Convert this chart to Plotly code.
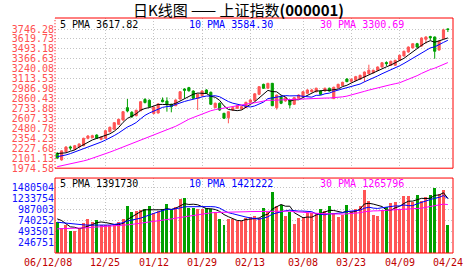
import plotly.graph_objects as go

# ---------------- data ----------------
dates = [
    "2006-12-08", "2006-12-11", "2006-12-12", "2006-12-13", "2006-12-14", "2006-12-15",
    "2006-12-18", "2006-12-19", "2006-12-20", "2006-12-21", "2006-12-22", "2006-12-25",
    "2006-12-26", "2006-12-27", "2006-12-28", "2006-12-29",
    "2007-01-04", "2007-01-05", "2007-01-08", "2007-01-09", "2007-01-10", "2007-01-11",
    "2007-01-12", "2007-01-15", "2007-01-16", "2007-01-17", "2007-01-18", "2007-01-19",
    "2007-01-22", "2007-01-23", "2007-01-24", "2007-01-25", "2007-01-26", "2007-01-29",
    "2007-01-30", "2007-01-31",
    "2007-02-01", "2007-02-02", "2007-02-05", "2007-02-06", "2007-02-07", "2007-02-08",
    "2007-02-09", "2007-02-12", "2007-02-13", "2007-02-14", "2007-02-15", "2007-02-16",
    "2007-02-26", "2007-02-27", "2007-02-28",
    "2007-03-01", "2007-03-02", "2007-03-05", "2007-03-06", "2007-03-07", "2007-03-08",
    "2007-03-09", "2007-03-12", "2007-03-13", "2007-03-14", "2007-03-15", "2007-03-16",
    "2007-03-19", "2007-03-20", "2007-03-21", "2007-03-22", "2007-03-23", "2007-03-26",
    "2007-03-27", "2007-03-28", "2007-03-29", "2007-03-30",
    "2007-04-02", "2007-04-03", "2007-04-04", "2007-04-05", "2007-04-06", "2007-04-09",
    "2007-04-10", "2007-04-11", "2007-04-12", "2007-04-13", "2007-04-16", "2007-04-17",
    "2007-04-18", "2007-04-19", "2007-04-20", "2007-04-23", "2007-04-24",
]

open_ = [2160, 2080, 2185, 2245, 2215, 2244, 2261, 2355, 2363, 2397,
         2342, 2355, 2439, 2470, 2533, 2588, 2745, 2686, 2643, 2706,
         2850, 2839, 2672, 2677, 2843, 2830, 2788, 2770, 2855, 2983,
         3000, 2957, 2864, 2897, 2970, 2941, 2745, 2801, 2673, 2617,
         2715, 2737, 2728, 2745, 2813, 2836, 2915, 3042, 2992, 3055,
         2745, 2885, 2830, 2843, 2788, 2864, 2885, 2928, 2948, 2948,
         2957, 2957, 2992, 2860, 3000, 3025, 3110, 3080, 3093, 3106,
         3136, 3177, 3190, 3221, 3263, 3320, 3285, 3285, 3348, 3403,
         3454, 3505, 3559, 3530, 3615, 3650, 3645, 3480, 3623, 3748]

high = [2180, 2200, 2255, 2261, 2270, 2290, 2362, 2397, 2400, 2405,
        2380, 2460, 2505, 2560, 2605, 2700, 2855, 2700, 2720, 2830,
        2865, 2850, 2760, 2800, 2875, 2877, 2795, 2850, 2955, 2992,
        3010, 2965, 2925, 2965, 2980, 2950, 2810, 2810, 2680, 2700,
        2755, 2780, 2765, 2820, 2850, 2930, 3020, 3050, 3060, 3060,
        2910, 2900, 2880, 2855, 2880, 2915, 2955, 2980, 2985, 3000,
        2965, 3000, 3000, 3012, 3050, 3075, 3120, 3120, 3150, 3165,
        3205, 3292, 3230, 3270, 3325, 3335, 3345, 3355, 3420, 3470,
        3525, 3565, 3570, 3640, 3655, 3660, 3650, 3600, 3750, 3752]

low = [2090, 2070, 2178, 2202, 2208, 2238, 2255, 2342, 2355, 2348,
       2330, 2350, 2430, 2465, 2528, 2580, 2686, 2615, 2635, 2700,
       2800, 2745, 2660, 2670, 2813, 2694, 2686, 2765, 2850, 2864,
       2950, 2855, 2715, 2890, 2920, 2780, 2740, 2705, 2600, 2546,
       2705, 2730, 2720, 2740, 2805, 2830, 2905, 2985, 2985, 2765,
       2720, 2790, 2820, 2737, 2780, 2855, 2880, 2920, 2940, 2940,
       2905, 2950, 2950, 2855, 2995, 3020, 3070, 3060, 3085, 3100,
       3072, 3170, 3180, 3215, 3255, 3275, 3280, 3280, 3340, 3395,
       3445, 3500, 3505, 3520, 3560, 3605, 3368, 3470, 3615, 3708]

close = [2105, 2195, 2244, 2232, 2261, 2283, 2355, 2384, 2388, 2355,
         2368, 2452, 2495, 2554, 2597, 2694, 2703, 2630, 2712, 2821,
         2810, 2757, 2750, 2792, 2821, 2789, 2757, 2843, 2948, 2966,
         2960, 2864, 2915, 2957, 2928, 2788, 2801, 2715, 2610, 2694,
         2745, 2770, 2757, 2813, 2843, 2921, 3012, 2992, 3055, 2770,
         2906, 2801, 2872, 2779, 2872, 2906, 2948, 2970, 2970, 2992,
         2915, 2992, 2957, 3005, 3042, 3068, 3076, 3105, 3140, 3157,
         3199, 3221, 3221, 3263, 3317, 3305, 3335, 3348, 3412, 3463,
         3517, 3559, 3517, 3632, 3645, 3635, 3463, 3590, 3735, 3740]

ma5 = [2162, 2165, 2170, 2190, 2207, 2243, 2275, 2303, 2334, 2353,
       2370, 2389, 2412, 2445, 2493, 2558, 2609, 2636, 2667, 2712,
       2735, 2746, 2770, 2786, 2786, 2782, 2782, 2801, 2832, 2861,
       2895, 2916, 2931, 2932, 2925, 2890, 2878, 2838, 2768, 2722,
       2713, 2707, 2715, 2756, 2786, 2821, 2869, 2916, 2965, 2950,
       2947, 2905, 2881, 2826, 2846, 2846, 2875, 2895, 2933, 2957,
       2959, 2968, 2965, 2972, 2982, 3013, 3030, 3059, 3086, 3109,
       3135, 3164, 3188, 3212, 3244, 3265, 3288, 3314, 3343, 3373,
       3415, 3460, 3494, 3538, 3574, 3598, 3578, 3593, 3614, 3633]

ma10 = [2121, 2130, 2143, 2160, 2180, 2206, 2225, 2245, 2262, 2280,
        2307, 2332, 2357, 2390, 2423, 2464, 2499, 2524, 2556, 2603,
        2647, 2677, 2703, 2727, 2749, 2759, 2764, 2786, 2809, 2824,
        2839, 2849, 2866, 2882, 2893, 2893, 2897, 2884, 2850, 2823,
        2802, 2792, 2777, 2762, 2754, 2767, 2788, 2816, 2860, 2868,
        2884, 2887, 2899, 2895, 2898, 2897, 2890, 2888, 2879, 2902,
        2903, 2922, 2930, 2953, 2970, 2986, 2999, 3012, 3029, 3046,
        3074, 3097, 3123, 3149, 3177, 3200, 3226, 3251, 3278, 3308,
        3340, 3374, 3404, 3441, 3473, 3506, 3519, 3543, 3576, 3603]

ma30 = [1994, 2005, 2016, 2028, 2040, 2053, 2067, 2082, 2100, 2118,
        2138, 2158, 2179, 2200, 2222, 2245, 2267, 2290, 2312, 2333,
        2355, 2376, 2397, 2418, 2439, 2458, 2482, 2508, 2537, 2569,
        2598, 2620, 2642, 2667, 2689, 2706, 2720, 2731, 2739, 2750,
        2763, 2773, 2782, 2791, 2799, 2807, 2817, 2829, 2840, 2839,
        2842, 2843, 2848, 2847, 2848, 2852, 2858, 2862, 2863, 2864,
        2863, 2867, 2868, 2870, 2874, 2883, 2892, 2905, 2923, 2938,
        2953, 2969, 2984, 2999, 3015, 3028, 3038, 3050, 3062, 3085,
        3106, 3131, 3152, 3181, 3207, 3231, 3248, 3269, 3294, 3319]

# volumes in thousands
vol_k = [710, 560, 620, 507, 507, 545, 681, 756, 710, 733,
         620, 620, 620, 635, 695, 771, 1056, 921, 951, 966,
         981, 1056, 906, 951, 981, 1101, 981, 1041, 1207, 1237,
         1011, 1011, 981, 996, 1011, 996, 921, 771, 635, 771,
         771, 726, 726, 786, 816, 831, 786, 1026, 921, 1387,
         1056, 1086, 831, 921, 658, 786, 786, 906, 906, 906,
         981, 936, 1071, 906, 801, 861, 1086, 951, 996, 1071,
         1432, 1162, 861, 831, 959, 1034, 1131, 1147, 996, 1282,
         1282, 1147, 1297, 1162, 1259, 1312, 1477, 1335, 1417, 620]

vma5_k = [770, 733, 660, 590, 581, 548, 572, 599, 640, 685,
          700, 688, 661, 646, 638, 668, 755, 816, 879, 933,
          975, 975, 972, 972, 975, 999, 984, 1011, 1062, 1113,
          1095, 1101, 1089, 1047, 1002, 999, 981, 939, 867, 819,
          774, 735, 726, 756, 765, 777, 789, 849, 876, 990,
          1035, 1095, 1056, 1056, 910, 856, 796, 811, 808, 858,
          897, 927, 960, 960, 939, 915, 945, 921, 939, 993,
          1107, 1122, 1104, 1071, 1049, 969, 963, 1020, 1053, 1118,
          1168, 1171, 1201, 1234, 1229, 1235, 1301, 1309, 1360, 1232]

vma10_k = [695, 683, 672, 662, 652, 643, 635, 630, 628, 633,
           624, 630, 630, 643, 662, 684, 722, 738, 762, 786,
           822, 865, 894, 925, 954, 987, 980, 992, 1017, 1044,
           1047, 1043, 1050, 1055, 1058, 1047, 1041, 1014, 957, 910,
           886, 858, 832, 811, 792, 775, 762, 787, 816, 878,
           906, 942, 953, 966, 950, 946, 946, 934, 932, 884,
           877, 862, 886, 884, 899, 906, 936, 941, 950, 966,
           1011, 1034, 1013, 1005, 1021, 1038, 1043, 1062, 1062, 1084,
           1069, 1067, 1111, 1144, 1174, 1202, 1236, 1255, 1297, 1231]

vma30_k = [545, 547, 549, 551, 554, 557, 561, 570, 580, 585,
           591, 598, 605, 612, 620, 627, 635, 646, 658, 670,
           683, 695, 708, 720, 733, 750, 768, 786, 803, 821,
           831, 846, 858, 874, 891, 906, 914, 915, 912, 913,
           918, 922, 925, 931, 935, 937, 928, 931, 930, 944,
           947, 948, 945, 944, 933, 923, 916, 912, 902, 891,
           890, 887, 890, 887, 880, 876, 881, 887, 899, 909,
           931, 946, 950, 952, 957, 963, 975, 979, 981, 978,
           985, 987, 1003, 1011, 1031, 1049, 1072, 1086, 1103, 1093]

price_ticks = [1974.58, 2101.13, 2227.68, 2354.23, 2480.78, 2607.33, 2733.88, 2860.43,
               2986.98, 3113.53, 3240.08, 3366.63, 3493.18, 3619.73, 3746.28]
vol_ticks = [246751, 493501, 740252, 987003, 1233754, 1480504]

label_dates = ["2006-12-08", "2006-12-25", "2007-01-12", "2007-01-29", "2007-02-13",
               "2007-03-08", "2007-03-23", "2007-04-09", "2007-04-24"]
label_texts = ["06/12/08", "12/25", "01/12", "01/29", "02/13", "03/08", "03/23", "04/09", "04/24"]

title_text = "日K线图 —— 上证指数<b>(000001)</b>"
price_header = ["5 PMA 3617.82", "10 PMA 3584.30", "30 PMA 3300.69"]
vol_header = ["5 PMA 1391730", "10 PMA 1421222", "30 PMA 1265796"]

# ---------------- style ----------------
UP = "#ff5555"
DOWN = "#00a000"
MA_COLORS = ["#000000", "#0000ff", "#ff00ff"]
MONO = "DejaVu Sans Mono"
GRID = "#c4c4c4"
BORDER = "#ff0000"

volume = [v * 1000 for v in vol_k]
vmas = [[v * 1000 for v in s] for s in (vma5_k, vma10_k, vma30_k)]
bar_colors = [UP if c >= o else DOWN for o, c in zip(open_, close)]

PLOT_H = 235
P_BOTTOM = 0.3609   # price panel bottom (paper fraction)
V_TOP = 0.319       # volume panel top (paper fraction)

fig = go.Figure()

fig.add_trace(go.Candlestick(
    x=dates, open=open_, high=high, low=low, close=close,
    increasing=dict(line=dict(color=UP, width=1), fillcolor=UP),
    decreasing=dict(line=dict(color=DOWN, width=1), fillcolor=DOWN),
    whiskerwidth=0, xaxis="x", yaxis="y", hoverinfo="skip",
))
for series, col in zip((ma5, ma10, ma30), MA_COLORS):
    fig.add_trace(go.Scatter(x=dates, y=series, mode="lines",
                             line=dict(color=col, width=1),
                             xaxis="x", yaxis="y", hoverinfo="skip"))

fig.add_trace(go.Bar(x=dates, y=volume, marker=dict(color=bar_colors, line=dict(width=0)),
                     width=0.68, xaxis="x2", yaxis="y2", hoverinfo="skip"))
for series, col in zip(vmas, MA_COLORS):
    fig.add_trace(go.Scatter(x=dates, y=series, mode="lines",
                             line=dict(color=col, width=1),
                             xaxis="x2", yaxis="y2", hoverinfo="skip"))

xcommon = dict(type="category", range=[-0.5, 90.17], showticklabels=False,
               tickvals=label_dates[1:-1], ticks="", showgrid=True,
               gridcolor=GRID, griddash="1px,2px", gridwidth=1,
               showline=False, zeroline=False, fixedrange=True)

fig.update_layout(
    width=472, height=273, autosize=False,
    margin=dict(l=50, r=19, t=18, b=20, pad=0),
    paper_bgcolor="white", plot_bgcolor="white",
    showlegend=False, hovermode=False,
    boxgap=0.3, boxgroupgap=0.3, bargap=0,
    xaxis=dict(domain=[0, 1], anchor="y", rangeslider=dict(visible=False), **xcommon),
    xaxis2=dict(domain=[0, 1], anchor="y2", **xcommon),
    yaxis=dict(domain=[P_BOTTOM, 1], range=[1974.58, 3886.6],
               tickvals=price_ticks, ticktext=[f"{v:.2f}" for v in price_ticks],
               tickfont=dict(family=MONO, size=10, color="#ff5050"),
               ticks="", showgrid=True, gridcolor=GRID, griddash="1px,2px",
               zeroline=False, showline=False, fixedrange=True),
    yaxis2=dict(domain=[0, V_TOP], range=[0, 1691600],
                tickvals=vol_ticks, ticktext=[str(v) for v in vol_ticks],
                tickfont=dict(family=MONO, size=10, color="#1010ff"),
                ticks="", showgrid=True, gridcolor=GRID, griddash="1px,2px",
                zeroline=False, showline=False, fixedrange=True),
)

# title (centred on the page, above the price panel)
fig.add_annotation(x=(236 - 50) / 403, y=1 + (18 - 9.8) / PLOT_H, xref="paper", yref="paper",
                   text=title_text, showarrow=False, xanchor="center", yanchor="middle",
                   borderpad=0, font=dict(family="Noto Sans CJK SC", size=15, color="#000000"))

# date labels under the volume panel (first one sits a little left of its candle)
label_shift = [-9, 0, 0, 0, 0, 0, 0, 0, 0]
for d, t, s in zip(label_dates, label_texts, label_shift):
    fig.add_annotation(x=d, y=0, xref="x2", yref="paper", text=t, showarrow=False,
                       xanchor="center", yanchor="top", yshift=-2, xshift=s,
                       font=dict(family=MONO, size=10, color="#c00000"))

# header texts inside panels
header_x = [0.0107, 0.333, 0.664]
for txt, col, hx in zip(price_header, MA_COLORS, header_x):
    fig.add_annotation(x=hx, y=1 - 6.5 / PLOT_H, xref="paper", yref="paper", text=txt,
                       showarrow=False, xanchor="left", yanchor="middle", borderpad=0,
                       font=dict(family=MONO, size=10, color=col))
for txt, col, hx in zip(vol_header, MA_COLORS, header_x):
    fig.add_annotation(x=hx, y=V_TOP - 5 / PLOT_H, xref="paper", yref="paper", text=txt,
                       showarrow=False, xanchor="left", yanchor="middle", borderpad=0,
                       font=dict(family=MONO, size=10, color=col))

# panel borders
solid = dict(color=BORDER, width=1)
shapes = [
    dict(type="line", xref="paper", yref="paper", x0=0, x1=1, y0=1, y1=1, line=solid),
    dict(type="line", xref="paper", yref="paper", x0=1, x1=1, y0=P_BOTTOM, y1=1, line=solid),
    dict(type="line", xref="paper", yref="paper", x0=0, x1=1, y0=P_BOTTOM, y1=P_BOTTOM, line=solid),
    dict(type="line", xref="paper", yref="paper", x0=0, x1=0, y0=P_BOTTOM, y1=1,
         line=dict(color=BORDER, width=1, dash="1px,2px")),
    dict(type="rect", xref="paper", yref="paper", x0=0, x1=1, y0=0, y1=V_TOP, line=solid),
]
fig.update_layout(shapes=shapes)

fig.write_html("out.html")
